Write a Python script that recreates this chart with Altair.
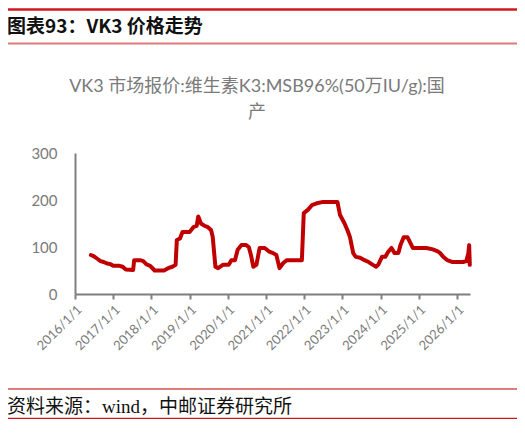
import altair as alt
import pandas as pd

dates = [
    "2016-06-01", "2016-07-01", "2016-08-01", "2016-09-01", "2016-10-01", "2016-11-01", "2016-12-01",
    "2017-01-01", "2017-03-01", "2017-04-01", "2017-05-01", "2017-07-10", "2017-07-20", "2017-09-15",
    "2017-10-15", "2017-11-15", "2017-12-20", "2018-02-01", "2018-05-01", "2018-06-10", "2018-07-20",
    "2018-08-20", "2018-09-01", "2018-10-01", "2018-10-25", "2019-01-01", "2019-02-10", "2019-03-10",
    "2019-03-25", "2019-04-20", "2019-05-25", "2019-06-20", "2019-07-25", "2019-08-10", "2019-09-05",
    "2019-10-01", "2019-11-15", "2020-01-10", "2020-02-05", "2020-03-10", "2020-04-05", "2020-05-10",
    "2020-06-25", "2020-07-20", "2020-08-10", "2020-09-01", "2020-10-01", "2020-11-01", "2020-12-20",
    "2021-02-01", "2021-03-10", "2021-04-10", "2021-05-10", "2021-06-15", "2021-07-20", "2021-12-10",
    "2021-12-28", "2022-02-05", "2022-03-15", "2022-05-01", "2022-07-01", "2022-11-15", "2022-12-10",
    "2023-01-20", "2023-02-20", "2023-03-15", "2023-04-15", "2023-05-10", "2023-06-20", "2023-08-01",
    "2023-09-10", "2023-10-20", "2023-11-20", "2023-12-10", "2024-01-15", "2024-02-15", "2024-03-15",
    "2024-04-15", "2024-05-15", "2024-06-20", "2024-07-10", "2024-08-10", "2024-09-15", "2024-10-10",
    "2024-11-05", "2025-03-15", "2025-05-15", "2025-06-20", "2025-07-20", "2025-08-20", "2025-10-01",
    "2025-11-20", "2026-03-01", "2026-04-01", "2026-04-20", "2026-04-28", "2026-05-04",
]
prices = [
    83, 80, 75, 70, 68, 65, 64,
    60, 60, 58, 52, 51, 72, 72,
    70, 63, 60, 50, 50, 55, 58,
    62, 115, 118, 132, 132, 143, 145,
    165, 150, 145, 143, 136, 122, 58,
    55, 62, 62, 72, 72, 94, 104,
    104, 100, 83, 58, 62, 98, 98,
    90, 87, 83, 55, 66, 72, 72,
    172, 179, 189, 193, 196, 196, 168,
    151, 135, 121, 87, 79, 77, 72,
    68, 62, 58, 62, 79, 79, 90,
    98, 87, 87, 104, 121, 121, 110,
    98, 98, 95, 92, 88, 80, 72,
    68, 68, 70, 87, 104, 62,
]

year_ticks = list(range(2016, 2027))
y_ticks = [0, 100, 200, 300]

header_text = "图表93：VK3 价格走势"
chart_title = ["VK3 市场报价:维生素K3:MSB96%(50万IU/g):国", "产"]
footer_text = "资料来源：wind，中邮证券研究所"

df = pd.DataFrame({"date": dates, "price": prices})

W, H = 395, 141

line = alt.Chart(df).mark_line(color="#c00000", strokeWidth=4, strokeJoin="round", strokeCap="round").encode(
    x=alt.X(
        "date:T",
        scale=alt.Scale(domain=[alt.DateTime(year=2016, month=1, date=1), alt.DateTime(year=2026, month=5, date=6)]),
        axis=alt.Axis(
            values=[alt.DateTime(year=y, month=1, date=1) for y in year_ticks],
            format="%Y/%-m/%-d",
            labelAngle=-45,
            labelAlign="right",
            labelBaseline="top",
            labelOverlap=False,
            labelFont="Lato",
            labelFontSize=13,
            labelColor="#7a7a7a",
            labelPadding=4,
            domainColor="#7f7f7f",
            domainWidth=2,
            tickColor="#7f7f7f",
            tickWidth=2,
            tickSize=5,
            grid=False,
            title=None,
        ),
    ),
    y=alt.Y(
        "price:Q",
        scale=alt.Scale(domain=[0, 300], nice=False),
        axis=alt.Axis(
            values=y_ticks,
            labelFont="Lato",
            labelFontSize=15,
            labelColor="#7a7a7a",
            labelPadding=18,
            ticks=False,
            domainColor="#7f7f7f",
            domainWidth=2,
            grid=False,
            title=None,
        ),
    ),
)

deco = pd.DataFrame({"k": [0]})
base = alt.Chart(deco)

def hrule(y, color, width):
    return base.mark_rule(color=color, strokeWidth=width).encode(
        x=alt.value(-70), x2=alt.value(442), y=alt.value(y)
    )

top_line = hrule(-143.5, "#d0161e", 2.5)
head_line = hrule(-109.5, "#e07b7b", 2)
foot_line = hrule(236, "#e07b7b", 2)
bottom_line = hrule(266, "#d0161e", 2.5)

header = base.mark_text(align="left", baseline="middle", font="Noto Sans CJK SC", fontSize=19,
                        fontWeight="bold", color="#111111").encode(
    x=alt.value(-68), y=alt.value(-126), text=alt.value(header_text))

title1 = base.mark_text(align="center", baseline="middle", font="Lato, Noto Sans CJK SC", fontSize=18,
                        color="#7a7a7a").encode(
    x=alt.value(182), y=alt.value(-66), text=alt.value(chart_title[0]))
title2 = base.mark_text(align="center", baseline="middle", font="Lato, Noto Sans CJK SC", fontSize=18,
                        color="#7a7a7a").encode(
    x=alt.value(182), y=alt.value(-40), text=alt.value(chart_title[1]))

footer = base.mark_text(align="left", baseline="middle", font="Liberation Serif, Noto Sans CJK SC", fontSize=19,
                        color="#111111").encode(
    x=alt.value(-68), y=alt.value(254), text=alt.value(footer_text))

chart = alt.layer(
    line, top_line, head_line, foot_line, bottom_line, header, title1, title2, footer
).properties(
    width=W, height=H,
    autosize=alt.AutoSizeParams(type="none"),
    padding={"left": 67, "top": 145, "right": 47, "bottom": 125},
).configure_view(stroke=None)

chart.save("out.html", embed_options={"renderer": "svg", "actions": False})
